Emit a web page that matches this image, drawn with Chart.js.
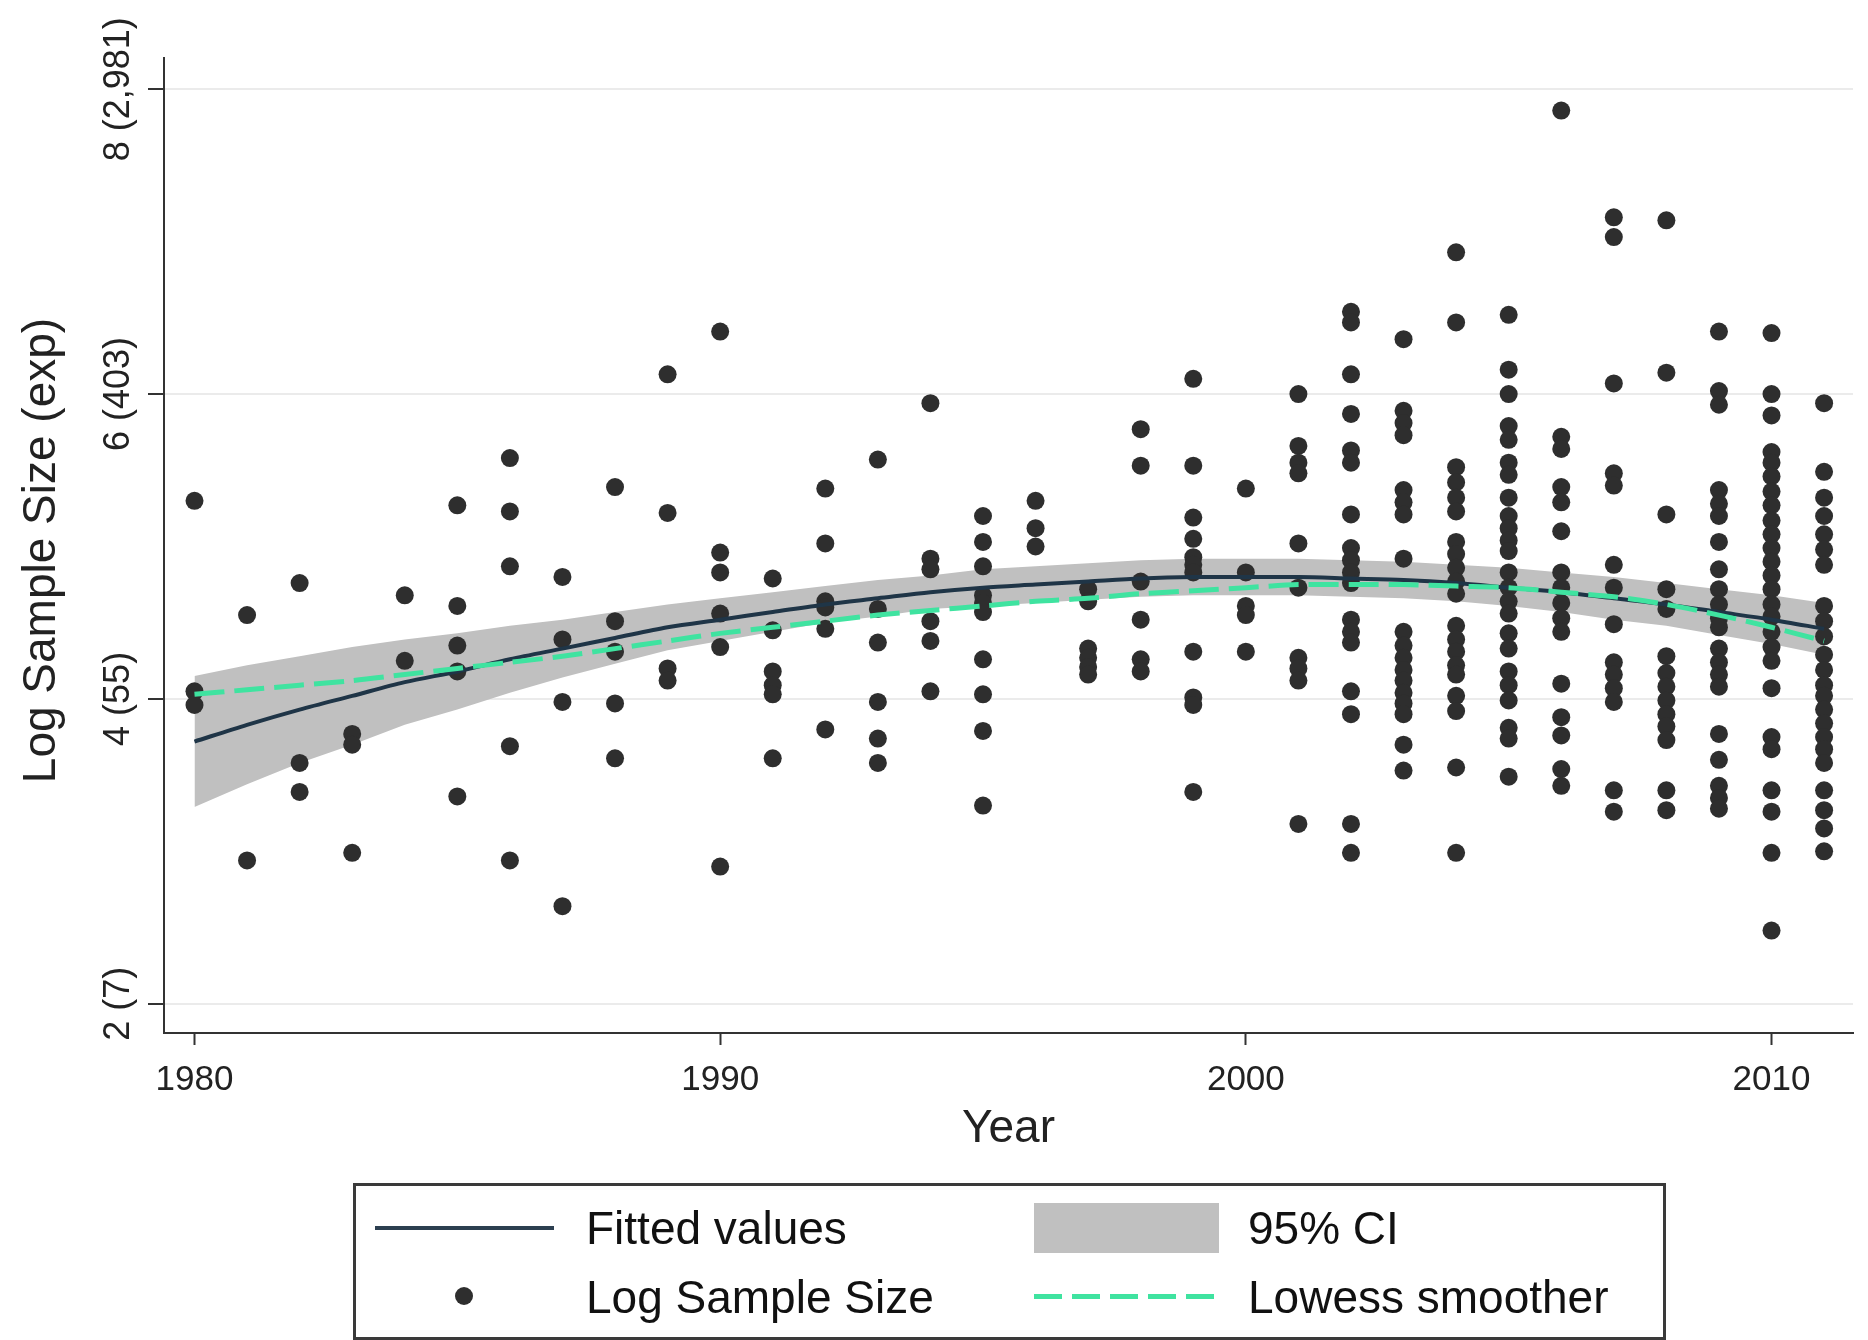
<!DOCTYPE html>
<html>
<head>
<meta charset="utf-8">
<script src="https://cdn.jsdelivr.net/npm/chart.js@4.4.0/dist/chart.umd.min.js"></script>
<style>
  body { margin: 0; background: #fff; font-family: "Liberation Sans", Arial, sans-serif; }
  #wrap { position: relative; width: 1868px; height: 1340px; overflow: hidden; }
  #chart { position: absolute; left: 0; top: 0; }
  .abs { position: absolute; }
  #legendBox { left: 353px; top: 1183px; width: 1313px; height: 157px; box-sizing: border-box; border: 3px solid #3a3a3a; }
  .lbl { height: 60px; line-height: 60px; font-size: 46px; color: #111; white-space: nowrap; }
</style>
</head>
<body>
<div id="wrap">
  <canvas id="chart" width="1868" height="1340"></canvas>
  <div id="legendBox" class="abs"></div>
  <div class="abs" style="left:375px; top:1226px; width:179px; height:4px; background:#2c3f50;"></div>
  <div class="abs lbl" style="left:586px; top:1198px;">Fitted values</div>
  <div class="abs" style="left:455px; top:1287px; width:18px; height:18px; border-radius:50%; background:#2e2e2e;"></div>
  <div class="abs lbl" style="left:586px; top:1267px;">Log Sample Size</div>
  <div class="abs" style="left:1034px; top:1203px; width:185px; height:50px; background:#c0c0c0;"></div>
  <div class="abs lbl" style="left:1248px; top:1198px;">95% CI</div>
  <div class="abs" style="left:1034px; top:1294px; width:185px; height:5px; background:repeating-linear-gradient(to right, #3fe3a0 0 28px, transparent 28px 38px);"></div>
  <div class="abs lbl" style="left:1248px; top:1267px;">Lowess smoother</div>
</div>
<script>
// publication year on the x axis
const years = [1980, 1981, 1982, 1983, 1984, 1985, 1986, 1987, 1988, 1989, 1990, 1991,
  1992, 1993, 1994, 1995, 1996, 1997, 1998, 1999, 2000, 2001, 2002, 2003, 2004, 2005,
  2006, 2007, 2008, 2009, 2010, 2011];

// log sample size of each study, grouped by year (same order as years)
const logSampleSize = [
  [5.30, 4.05, 3.96],
  [4.55, 2.94],
  [4.76, 3.58, 3.39],
  [3.77, 3.70, 2.99],
  [4.68, 4.25],
  [5.27, 4.61, 4.35, 4.18, 3.36],
  [5.58, 5.23, 4.87, 3.69, 2.94],
  [4.80, 4.39, 3.98, 2.64],
  [5.39, 4.51, 4.31, 3.97, 3.61],
  [6.13, 5.22, 4.20, 4.12],
  [6.41, 4.96, 4.83, 4.56, 4.34, 2.90],
  [4.79, 4.45, 4.18, 4.09, 4.03, 3.61],
  [5.38, 5.02, 4.64, 4.60, 4.46, 3.80],
  [5.57, 4.59, 4.37, 3.98, 3.74, 3.58],
  [5.94, 4.92, 4.85, 4.51, 4.38, 4.05],
  [5.20, 5.03, 4.87, 4.68, 4.63, 4.57, 4.26, 4.03, 3.79, 3.30],
  [5.30, 5.12, 5.00],
  [4.72, 4.64, 4.33, 4.27, 4.21, 4.16],
  [5.77, 5.53, 4.77, 4.52, 4.26, 4.18],
  [6.10, 5.53, 5.19, 5.05, 4.93, 4.88, 4.83, 4.31, 4.01, 3.96, 3.39],
  [5.38, 4.83, 4.61, 4.55, 4.31],
  [6.00, 5.66, 5.55, 5.48, 5.02, 4.73, 4.27, 4.20, 4.12, 3.18],
  [6.54, 6.47, 6.13, 5.87, 5.63, 5.55, 5.21, 4.99, 4.91, 4.83, 4.76, 4.52, 4.44, 4.37, 4.05, 3.90, 3.18, 2.99],
  [6.36, 5.89, 5.81, 5.73, 5.37, 5.29, 5.21, 4.92, 4.44, 4.35, 4.27, 4.19, 4.12, 4.04, 3.97, 3.90, 3.70, 3.53],
  [6.93, 6.47, 5.52, 5.42, 5.32, 5.23, 5.03, 4.95, 4.86, 4.77, 4.69, 4.48, 4.39, 4.31, 4.22, 4.16, 4.02, 3.92, 3.55, 2.99],
  [6.52, 6.16, 6.00, 5.79, 5.70, 5.55, 5.47, 5.32, 5.20, 5.12, 5.04, 4.97, 4.83, 4.73, 4.64, 4.56, 4.43, 4.33, 4.18, 4.09, 3.99, 3.81, 3.74, 3.49],
  [7.86, 5.72, 5.64, 5.39, 5.29, 5.10, 4.83, 4.73, 4.63, 4.53, 4.44, 4.10, 3.88, 3.76, 3.54, 3.43],
  [7.16, 7.03, 6.07, 5.48, 5.40, 4.88, 4.73, 4.49, 4.24, 4.16, 4.07, 3.98, 3.40, 3.26],
  [7.14, 6.14, 5.21, 4.72, 4.59, 4.28, 4.17, 4.08, 3.99, 3.90, 3.82, 3.73, 3.40, 3.27],
  [6.41, 6.02, 5.93, 5.37, 5.28, 5.20, 5.03, 4.85, 4.72, 4.62, 4.53, 4.47, 4.33, 4.24, 4.16, 4.08, 3.77, 3.60, 3.43, 3.35, 3.28],
  [6.40, 6.00, 5.86, 5.62, 5.55, 5.46, 5.36, 5.27, 5.17, 5.08, 4.99, 4.90, 4.81, 4.72, 4.62, 4.54, 4.44, 4.34, 4.25, 4.07, 3.75, 3.67, 3.40, 3.26, 2.99, 2.48],
  [5.94, 5.49, 5.32, 5.20, 5.08, 4.98, 4.88, 4.61, 4.51, 4.41, 4.29, 4.19, 4.09, 4.02, 3.93, 3.84, 3.75, 3.67, 3.58, 3.40, 3.27, 3.15, 3.00]
];

// quadratic fit and its 95% band
const fittedValues = [3.72, 3.83, 3.93, 4.02, 4.11, 4.18, 4.26, 4.33, 4.40, 4.47, 4.52, 4.57,
  4.62, 4.66, 4.70, 4.73, 4.75, 4.77, 4.79, 4.80, 4.80, 4.80, 4.79, 4.78, 4.76, 4.73,
  4.70, 4.66, 4.62, 4.57, 4.52, 4.46];
const ciUpper = [4.15, 4.22, 4.28, 4.34, 4.39, 4.43, 4.48, 4.52, 4.57, 4.62, 4.66, 4.70,
  4.74, 4.78, 4.81, 4.85, 4.87, 4.89, 4.91, 4.92, 4.92, 4.92, 4.91, 4.90, 4.88, 4.86,
  4.83, 4.80, 4.76, 4.72, 4.68, 4.63];
const ciLower = [3.29, 3.44, 3.58, 3.70, 3.83, 3.93, 4.04, 4.14, 4.23, 4.32, 4.38, 4.44,
  4.50, 4.54, 4.59, 4.61, 4.63, 4.65, 4.67, 4.68, 4.68, 4.68, 4.67, 4.66, 4.64, 4.61,
  4.57, 4.52, 4.48, 4.42, 4.36, 4.29];
const lowessValues = [4.03, 4.06, 4.09, 4.12, 4.16, 4.20, 4.24, 4.28, 4.33, 4.38, 4.43, 4.47,
  4.51, 4.55, 4.58, 4.61, 4.64, 4.66, 4.69, 4.71, 4.73, 4.75, 4.75, 4.75, 4.74, 4.73,
  4.70, 4.67, 4.62, 4.55, 4.47, 4.38];

const xTickValues = [1980, 1990, 2000, 2010];
const yTickValues = [2, 4, 6, 8];
const yTickLabels = ['2 (7)', '4 (55)', '6 (403)', '8 (2,981)'];

const FONT = '"Liberation Sans", Arial, sans-serif';

const scatterPoints = [];
years.forEach((yr, i) => {
  logSampleSize[i].forEach(v => scatterPoints.push({ x: yr, y: v }));
});
const asLine = arr => years.map((yr, i) => ({ x: yr, y: arr[i] }));

// rotated y tick labels and axis titles
const axisText = {
  id: 'axisText',
  afterDraw(chart) {
    const { ctx, chartArea, scales } = chart;
    ctx.save();
    ctx.fillStyle = '#222';
    ctx.textAlign = 'center';
    ctx.textBaseline = 'middle';
    ctx.font = '36px ' + FONT;
    yTickValues.forEach((v, i) => {
      ctx.save();
      ctx.translate(119, scales.y.getPixelForValue(v));
      ctx.rotate(-Math.PI / 2);
      ctx.fillText(yTickLabels[i], 0, 0);
      ctx.restore();
    });
    ctx.font = '46px ' + FONT;
    ctx.save();
    ctx.translate(42, (chartArea.top + chartArea.bottom) / 2 + 5);
    ctx.rotate(-Math.PI / 2);
    ctx.fillText('Log Sample Size (exp)', 0, 0);
    ctx.restore();
    ctx.fillText('Year', (chartArea.left + chartArea.right) / 2, 1129);
    ctx.restore();
  }
};

const ctx = document.getElementById('chart').getContext('2d');
const chart = new Chart(ctx, {
  type: 'scatter',
  data: {
    datasets: [
      {
        label: 'CI lower',
        type: 'line',
        data: asLine(ciLower),
        borderWidth: 0,
        pointRadius: 0,
        fill: false,
        order: 4
      },
      {
        label: '95% CI',
        type: 'line',
        data: asLine(ciUpper),
        borderWidth: 0,
        pointRadius: 0,
        fill: '-1',
        backgroundColor: '#c0c0c0',
        order: 3
      },
      {
        label: 'Log Sample Size',
        data: scatterPoints,
        pointRadius: 9,
        pointBackgroundColor: '#2e2e2e',
        pointBorderWidth: 0,
        order: 2
      },
      {
        label: 'Fitted values',
        type: 'line',
        data: asLine(fittedValues),
        borderColor: '#1f3547',
        borderWidth: 4,
        pointRadius: 0,
        tension: 0.3,
        fill: false,
        order: 1
      },
      {
        label: 'Lowess smoother',
        type: 'line',
        data: asLine(lowessValues),
        borderColor: '#3fe3a0',
        borderWidth: 5,
        borderDash: [30, 10],
        pointRadius: 0,
        tension: 0.3,
        fill: false,
        order: 0
      }
    ]
  },
  options: {
    responsive: false,
    animation: false,
    devicePixelRatio: 1,
    layout: { padding: { left: 0, right: 15, top: 58, bottom: 0 } },
    plugins: {
      legend: { display: false },
      tooltip: { enabled: false }
    },
    scales: {
      x: {
        type: 'linear',
        min: 1979.42,
        max: 2011.55,
        afterBuildTicks: s => { s.ticks = xTickValues.map(v => ({ value: v })); },
        afterFit: s => { s.height = 307; },
        grid: { drawOnChartArea: false, tickLength: 12, tickColor: '#333', tickWidth: 2 },
        border: { color: '#333', width: 2 },
        ticks: {
          font: { size: 35, family: FONT },
          color: '#222',
          padding: 14,
          maxRotation: 0,
          autoSkip: false,
          callback: v => String(v)
        }
      },
      y: {
        min: 1.808,
        max: 8.205,
        afterBuildTicks: s => { s.ticks = yTickValues.map(v => ({ value: v })); },
        afterFit: s => { s.width = 164; },
        grid: { color: '#ebebeb', lineWidth: 2, tickLength: 16, tickColor: '#333', tickWidth: 2 },
        border: { color: '#333', width: 2 },
        ticks: { display: false }
      }
    }
  },
  plugins: [axisText]
});
</script>
</body>
</html>
